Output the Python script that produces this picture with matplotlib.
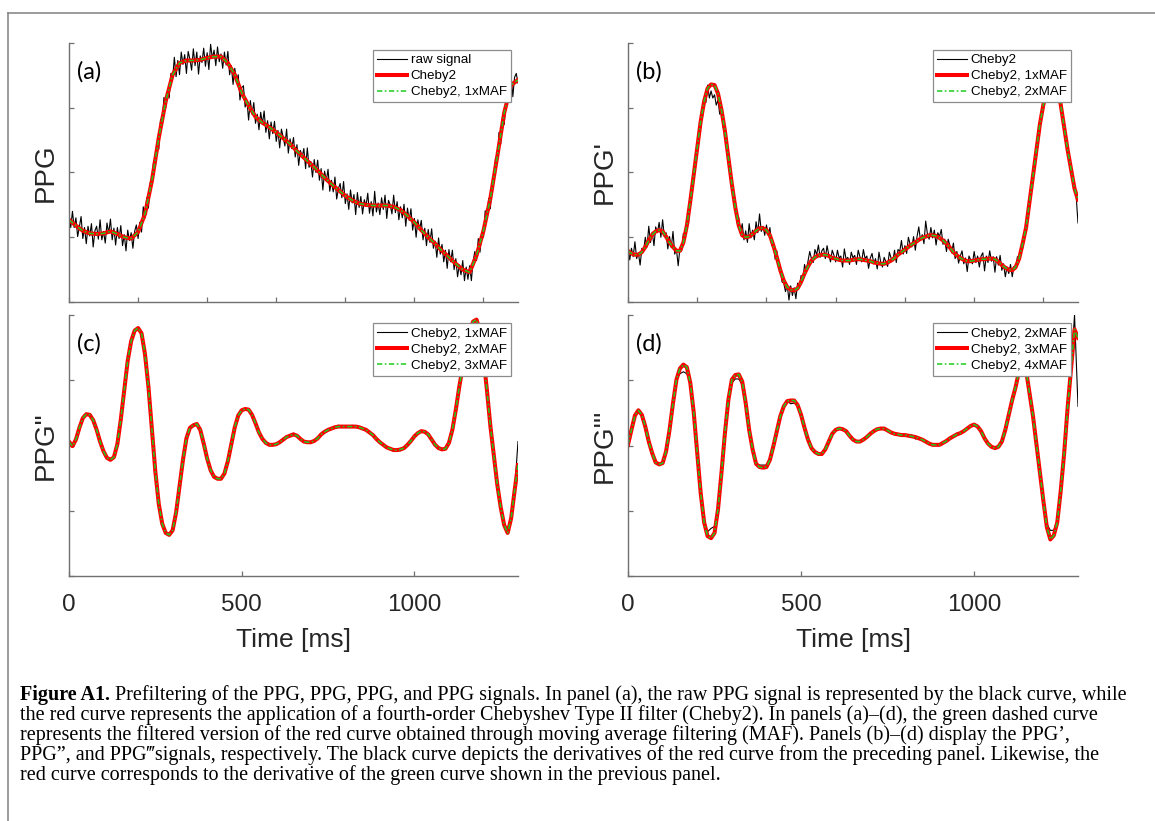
import numpy as np
import matplotlib
matplotlib.use('Agg')
import matplotlib.pyplot as plt
from matplotlib.lines import Line2D

plt.rcParams['font.family'] = ['Liberation Sans', 'DejaVu Sans']

# sample times [ms]
t5 = np.arange(0, 1301, 5)
t10 = np.arange(0, 1301, 10)
t20 = np.arange(0, 1301, 20)

# panel (a): raw PPG and Cheby2 filtered PPG (arbitrary units)
raw_a = [1.35, 1.15, 1.40, 1.15, 1.30, 1.01, 1.16, 1.32, 0.98, 1.15,
         0.90, 1.17, 1.02, 1.21, 0.85, 1.10, 1.17, 0.97, 1.27, 0.96,
         1.09, 0.91, 1.22, 1.06, 1.28, 0.96, 1.14, 0.88, 1.15, 0.98,
         1.18, 0.87, 1.04, 0.79, 1.11, 0.95, 1.07, 0.83, 1.09, 1.19,
         0.98, 1.23, 1.08, 1.47, 1.30, 1.61, 1.45, 1.84, 1.83, 2.19,
         2.08, 2.43, 2.36, 2.82, 2.80, 3.16, 3.00, 3.25, 3.15, 3.53,
         3.45, 3.78, 3.48, 3.73, 3.51, 3.86, 3.67, 3.82, 3.53, 3.87,
         3.75, 3.58, 3.91, 3.65, 3.86, 3.52, 3.80, 3.70, 3.92, 3.64,
         3.85, 3.59, 3.98, 3.76, 3.89, 3.65, 3.94, 3.71, 3.83, 3.61,
         3.86, 3.66, 3.87, 3.51, 3.65, 3.36, 3.61, 3.41, 3.51, 3.12,
         3.31, 3.34, 3.01, 3.12, 2.81, 3.11, 2.90, 3.08, 2.76, 2.90,
         2.66, 2.93, 2.75, 2.95, 2.62, 2.80, 2.52, 2.78, 2.60, 2.79,
         2.48, 2.65, 2.38, 2.67, 2.55, 2.41, 2.67, 2.30, 2.52, 2.37,
         2.54, 2.24, 2.43, 2.11, 2.34, 2.24, 2.37, 2.06, 2.38, 2.08,
         2.17, 1.93, 2.20, 2.00, 2.19, 1.88, 2.06, 1.73, 2.02, 1.87,
         2.05, 1.71, 1.88, 1.70, 1.93, 1.59, 1.75, 1.83, 1.61, 1.86,
         1.52, 1.67, 1.43, 1.73, 1.53, 1.66, 1.35, 1.69, 1.46, 1.63,
         1.36, 1.58, 1.48, 1.68, 1.37, 1.55, 1.33, 1.71, 1.39, 1.53,
         1.35, 1.61, 1.43, 1.65, 1.29, 1.57, 1.50, 1.36, 1.65, 1.38,
         1.55, 1.27, 1.47, 1.30, 1.51, 1.17, 1.45, 1.26, 1.44, 1.11,
         1.29, 1.00, 1.27, 1.12, 1.26, 0.96, 1.14, 0.87, 1.12, 0.92,
         1.13, 0.83, 0.94, 0.69, 0.99, 0.74, 0.89, 0.62, 0.80, 0.52,
         0.81, 0.62, 0.80, 0.50, 0.67, 0.39, 0.57, 0.42, 0.64, 0.33,
         0.54, 0.35, 0.56, 0.33, 0.63, 0.78, 0.64, 0.98, 0.77, 1.06,
         1.00, 1.41, 1.29, 1.60, 1.44, 1.84, 1.91, 2.23, 2.13, 2.62,
         2.44, 2.85, 2.74, 3.09, 3.28, 3.12, 3.51, 3.17, 3.47, 3.53, 3.38]
cheby_a = [1.27, 1.18, 1.10, 1.06, 1.05, 1.06, 1.09, 1.05, 1.00, 0.98,
           1.08, 1.36, 1.87, 2.54, 3.10, 3.51, 3.69, 3.73, 3.73, 3.74,
           3.77, 3.79, 3.79, 3.69, 3.51, 3.23, 3.03, 2.86, 2.77, 2.70,
           2.62, 2.53, 2.44, 2.33, 2.23, 2.13, 2.03, 1.92, 1.82, 1.73,
           1.64, 1.57, 1.52, 1.50, 1.49, 1.49, 1.49, 1.47, 1.42, 1.33,
           1.23, 1.11, 1.00, 0.90, 0.79, 0.69, 0.59, 0.50, 0.46, 0.72,
           1.10, 1.60, 2.25, 2.92, 3.35, 3.43]

# panel (b): PPG'
black_b = [0.84, 0.65, 0.83, 0.70, 0.93, 0.67, 0.76, 0.57, 0.83, 0.79,
           1.00, 0.85, 1.17, 0.92, 1.08, 0.87, 1.16, 1.07, 1.23, 1.00,
           1.27, 1.01, 1.07, 0.82, 1.01, 0.84, 1.09, 0.74, 0.81, 0.56,
           0.84, 0.79, 1.06, 1.02, 1.22, 1.21, 1.66, 1.73, 2.05, 2.13,
           2.44, 2.54, 2.87, 2.85, 3.14, 3.08, 3.35, 3.15, 3.26, 3.15,
           3.20, 3.04, 3.12, 2.90, 2.92, 2.69, 2.70, 2.36, 2.28, 1.99,
           1.90, 1.58, 1.50, 1.22, 1.30, 1.07, 1.21, 0.96, 1.10, 0.92,
           1.21, 0.99, 1.11, 0.96, 1.24, 1.07, 1.36, 1.09, 1.17, 1.03,
           1.19, 1.03, 1.15, 0.87, 0.92, 0.66, 0.79, 0.53, 0.53, 0.31,
           0.29, 0.16, 0.26, 0.03, 0.25, 0.10, 0.22, 0.05, 0.29, 0.23,
           0.41, 0.33, 0.58, 0.46, 0.63, 0.78, 0.67, 0.61, 0.81, 0.73,
           0.88, 0.69, 0.79, 0.83, 0.67, 0.87, 0.73, 0.62, 0.80, 0.72,
           0.62, 0.80, 0.68, 0.71, 0.54, 0.82, 0.66, 0.69, 0.58, 0.77,
           0.68, 0.72, 0.58, 0.80, 0.70, 0.62, 0.81, 0.67, 0.71, 0.52,
           0.68, 0.75, 0.59, 0.67, 0.51, 0.77, 0.62, 0.54, 0.69, 0.62,
           0.55, 0.77, 0.68, 0.63, 0.80, 0.61, 0.81, 0.78, 0.95, 0.74,
           0.87, 0.75, 1.00, 0.89, 0.85, 1.01, 0.80, 1.01, 1.16, 0.95,
           1.04, 0.90, 1.25, 1.05, 0.97, 1.15, 0.99, 1.11, 0.88, 1.07,
           1.01, 1.12, 0.89, 0.97, 0.78, 0.97, 0.87, 0.76, 0.91, 0.67,
           0.78, 0.60, 0.71, 0.79, 0.59, 0.68, 0.47, 0.71, 0.65, 0.59,
           0.78, 0.61, 0.71, 0.54, 0.71, 0.76, 0.48, 0.71, 0.61, 0.79,
           0.63, 0.70, 0.46, 0.70, 0.57, 0.72, 0.49, 0.59, 0.39, 0.54,
           0.44, 0.58, 0.39, 0.55, 0.51, 0.70, 0.62, 0.84, 0.82, 1.06,
           1.20, 1.29, 1.63, 1.71, 2.01, 2.07, 2.40, 2.52, 2.79, 2.84,
           3.08, 3.10, 3.29, 3.31, 3.43, 3.39, 3.47, 3.35, 3.39, 3.14,
           3.10, 2.80, 2.73, 2.47, 2.39, 2.15, 2.08, 1.86, 1.77, 1.61, 1.22]
cheby_b = [0.79, 0.75, 0.73, 0.73, 0.77, 0.85, 0.95, 1.04, 1.09, 1.11,
           1.09, 1.01, 0.92, 0.85, 0.79, 0.79, 0.92, 1.18, 1.56, 1.97,
           2.38, 2.79, 3.10, 3.30, 3.36, 3.35, 3.22, 2.97, 2.64, 2.23,
           1.82, 1.46, 1.18, 1.03, 1.00, 1.01, 1.05, 1.10, 1.14, 1.14,
           1.11, 1.03, 0.87, 0.69, 0.49, 0.33, 0.23, 0.19, 0.18, 0.21,
           0.31, 0.44, 0.55, 0.64, 0.69, 0.72, 0.73, 0.73, 0.71, 0.68,
           0.67, 0.65, 0.64, 0.64, 0.64, 0.65, 0.66, 0.66, 0.65, 0.64,
           0.63, 0.61, 0.60, 0.59, 0.59, 0.61, 0.64, 0.68, 0.73, 0.77,
           0.81, 0.85, 0.89, 0.92, 0.96, 0.99, 1.01, 1.03, 1.03, 1.02,
           0.99, 0.95, 0.90, 0.84, 0.77, 0.72, 0.68, 0.65, 0.63, 0.63,
           0.64, 0.65, 0.66, 0.66, 0.67, 0.67, 0.66, 0.62, 0.57, 0.53,
           0.50, 0.49, 0.54, 0.67, 0.90, 1.15, 1.55, 1.95, 2.35, 2.75,
           3.05, 3.25, 3.40, 3.45, 3.35, 3.05, 2.70, 2.35, 2.05, 1.75,
           1.58]

# panel (c): PPG''
black_c = [2.06, 1.99, 2.09, 2.27, 2.42, 2.48, 2.47, 2.39, 2.24, 2.06,
           1.91, 1.81, 1.78, 1.82, 2.02, 2.40, 2.85, 3.30, 3.60, 3.76,
           3.80, 3.72, 3.40, 2.90, 2.25, 1.60, 1.10, 0.80, 0.66, 0.63,
           0.70, 0.97, 1.38, 1.78, 2.11, 2.27, 2.31, 2.34, 2.24, 2.03,
           1.80, 1.62, 1.52, 1.49, 1.49, 1.57, 1.76, 2.02, 2.28, 2.46,
           2.54, 2.56, 2.55, 2.47, 2.34, 2.20, 2.10, 2.04, 2.01, 2.00,
           2.02, 2.05, 2.09, 2.13, 2.17, 2.19, 2.14, 2.10, 2.06, 2.05,
           2.03, 2.08, 2.11, 2.17, 2.21, 2.24, 2.26, 2.28, 2.31, 2.29,
           2.30, 2.29, 2.31, 2.29, 2.28, 2.26, 2.24, 2.20, 2.16, 2.10,
           2.05, 2.01, 1.97, 1.95, 1.91, 1.92, 1.92, 1.96, 2.01, 2.07,
           2.14, 2.19, 2.23, 2.21, 2.17, 2.09, 2.01, 1.96, 1.93, 1.95,
           2.04, 2.24, 2.55, 2.90, 3.21, 3.50, 3.75, 3.90, 3.93, 3.75,
           3.35, 2.85, 2.30, 1.85, 1.40, 1.05, 0.78, 0.66, 0.88, 1.30,
           2.06]
cheby_c = [2.06, 1.99, 2.09, 2.27, 2.42, 2.48, 2.47, 2.39, 2.24, 2.06,
           1.91, 1.81, 1.78, 1.82, 2.02, 2.40, 2.85, 3.30, 3.60, 3.76,
           3.80, 3.72, 3.40, 2.90, 2.25, 1.60, 1.10, 0.80, 0.66, 0.63,
           0.70, 0.97, 1.38, 1.78, 2.11, 2.27, 2.31, 2.33, 2.24, 2.03,
           1.80, 1.62, 1.52, 1.49, 1.49, 1.57, 1.76, 2.02, 2.28, 2.46,
           2.54, 2.56, 2.55, 2.47, 2.34, 2.20, 2.10, 2.04, 2.01, 2.01,
           2.02, 2.05, 2.09, 2.13, 2.15, 2.17, 2.15, 2.10, 2.06, 2.05,
           2.05, 2.07, 2.11, 2.17, 2.21, 2.24, 2.26, 2.28, 2.29, 2.29,
           2.29, 2.29, 2.29, 2.29, 2.28, 2.26, 2.24, 2.20, 2.16, 2.10,
           2.05, 2.01, 1.97, 1.95, 1.93, 1.93, 1.94, 1.96, 2.01, 2.07,
           2.14, 2.19, 2.22, 2.21, 2.17, 2.09, 2.01, 1.96, 1.94, 1.95,
           2.04, 2.24, 2.55, 2.90, 3.21, 3.50, 3.75, 3.90, 3.93, 3.75,
           3.35, 2.85, 2.30, 1.85, 1.40, 1.05, 0.78, 0.66, 0.88, 1.30,
           1.70]

# panel (d): PPG'''
black_d = [1.94, 2.24, 2.46, 2.54, 2.47, 2.29, 2.06, 1.88, 1.74, 1.71,
           1.73, 1.91, 2.24, 2.65, 3.01, 3.10, 3.13, 3.10, 2.96, 2.50,
           1.89, 1.27, 0.82, 0.68, 0.73, 0.76, 1.02, 1.58, 2.19, 2.70,
           2.96, 3.02, 3.02, 2.93, 2.65, 2.24, 1.94, 1.72, 1.70, 1.70,
           1.70, 1.78, 1.99, 2.22, 2.45, 2.60, 2.68, 2.64, 2.65, 2.62,
           2.47, 2.27, 2.09, 1.96, 1.90, 1.87, 1.89, 1.94, 2.06, 2.18,
           2.24, 2.26, 2.25, 2.22, 2.15, 2.09, 2.06, 2.06, 2.09, 2.13,
           2.18, 2.22, 2.25, 2.26, 2.24, 2.23, 2.20, 2.18, 2.17, 2.16,
           2.16, 2.15, 2.16, 2.10, 2.11, 2.09, 2.06, 2.03, 2.01, 2.01,
           2.01, 2.04, 2.07, 2.11, 2.14, 2.19, 2.17, 2.22, 2.26, 2.30,
           2.30, 2.29, 2.22, 2.11, 2.03, 1.98, 1.96, 1.98, 2.06, 2.24,
           2.47, 2.70, 2.90, 3.15, 3.30, 3.15, 2.80, 2.45, 2.02, 1.58,
           1.15, 0.80, 0.70, 0.70, 0.86, 1.30, 1.88, 2.58, 3.18, 4.00,
           2.60]
cheby_d = [2.01, 2.24, 2.46, 2.54, 2.47, 2.29, 2.06, 1.88, 1.74, 1.71,
           1.73, 1.91, 2.24, 2.65, 3.01, 3.18, 3.24, 3.20, 2.96, 2.50,
           1.89, 1.27, 0.82, 0.61, 0.58, 0.66, 1.02, 1.58, 2.19, 2.70,
           3.01, 3.08, 3.09, 2.98, 2.65, 2.24, 1.94, 1.72, 1.67, 1.66,
           1.67, 1.78, 1.99, 2.22, 2.45, 2.60, 2.68, 2.69, 2.69, 2.62,
           2.47, 2.27, 2.09, 1.96, 1.90, 1.87, 1.87, 1.94, 2.06, 2.18,
           2.24, 2.26, 2.25, 2.22, 2.15, 2.09, 2.06, 2.06, 2.09, 2.13,
           2.18, 2.22, 2.25, 2.26, 2.26, 2.23, 2.20, 2.18, 2.17, 2.16,
           2.16, 2.15, 2.14, 2.13, 2.11, 2.09, 2.06, 2.03, 2.01, 2.01,
           2.01, 2.04, 2.07, 2.11, 2.14, 2.17, 2.19, 2.22, 2.26, 2.30,
           2.32, 2.29, 2.22, 2.11, 2.03, 1.98, 1.96, 1.98, 2.06, 2.24,
           2.47, 2.70, 2.90, 3.15, 3.30, 3.15, 2.80, 2.45, 2.02, 1.58,
           1.15, 0.75, 0.56, 0.62, 0.82, 1.30, 1.88, 2.58, 3.18, 3.78,
           3.65]

legend_labels = [['raw signal', 'Cheby2', 'Cheby2, 1xMAF'],
                 ['Cheby2', 'Cheby2, 1xMAF', 'Cheby2, 2xMAF'],
                 ['Cheby2, 1xMAF', 'Cheby2, 2xMAF', 'Cheby2, 3xMAF'],
                 ['Cheby2, 2xMAF', 'Cheby2, 3xMAF', 'Cheby2, 4xMAF']]
y_names = ['PPG', "PPG'", 'PPG"', "PPG'''"]
letters = ['(a)', '(b)', '(c)', '(d)']

W, H = 1155, 821
fig = plt.figure(figsize=(W / 100, H / 100), dpi=100)


def px_box(l, t, r, b):
    return [l / W, 1 - b / H, (r - l) / W, (b - t) / H]


boxes = [px_box(69, 43, 518, 302), px_box(628, 43, 1078, 302),
         px_box(69, 315, 518, 576), px_box(628, 315, 1078, 576)]
blacks = [(t5, raw_a), (t5, black_b), (t10, black_c), (t10, black_d)]
reds = [(t20, cheby_a), (t10, cheby_b), (t10, cheby_c), (t10, cheby_d)]

grey = '#707070'
txt = '#262626'
green = '#1ccc1c'

for i in range(4):
    ax = fig.add_axes(boxes[i])
    tb, yb = blacks[i]
    tr, yr = reds[i]
    l1, = ax.plot(tb, yb, color='black', lw=0.8)
    l2, = ax.plot(tr, yr, color='red', lw=2.9)
    l3, = ax.plot(tr, yr, color=green, lw=1.1, dashes=(3.5, 1.6, 1.1, 1.6))
    ax.set_xlim(0, 1300)
    ax.set_ylim(0, 4)
    ax.set_yticks([0, 1, 2, 3, 4])
    ax.set_yticklabels([])
    if i < 2:
        ax.set_xticks(np.arange(0, 1201, 200))
        ax.set_xticklabels([])
    else:
        ax.set_xticks([0, 500, 1000])
        ax.set_xlabel('Time [ms]', fontsize=19, color=txt)
        ax.xaxis.set_label_coords(0.5, -0.20)
    for s in ['top', 'right']:
        ax.spines[s].set_visible(False)
    for s in ['left', 'bottom']:
        ax.spines[s].set_color(grey)
        ax.spines[s].set_linewidth(1.0)
    ax.tick_params(direction='in', length=3.5, width=0.9, color=grey,
                   labelsize=17.5, labelcolor=txt, pad=13)
    ax.set_ylabel(y_names[i], fontsize=20, color=txt)
    ax.yaxis.set_label_coords(-0.022, 0.5)
    ax.text(0.018, 0.89, letters[i], transform=ax.transAxes, fontsize=17,
            family=['Lato', 'DejaVu Sans'], ha='left', va='center', color='black')
    top = 0.973 if i < 2 else 0.968
    leg = ax.legend([l1, l2, l3], legend_labels[i], loc='upper right',
                    bbox_to_anchor=(0.984, top), borderaxespad=0, fontsize=9.6,
                    handlelength=2.2, handletextpad=0.3, labelspacing=0.28,
                    borderpad=0.3, fancybox=False, framealpha=1)
    leg.get_frame().set_edgecolor('#8c8c8c')
    leg.get_frame().set_linewidth(0.9)

# outer frame of the figure box
fig.add_artist(Line2D([8 / W, 8 / W], [0, 1 - 13 / H], color='#8a8a8a', lw=1.2))
fig.add_artist(Line2D([8 / W, 1], [1 - 13 / H, 1 - 13 / H], color='#8a8a8a', lw=1.2))

# caption
cap_font = ['Liberation Serif', 'DejaVu Serif']
cap_lines = [' Prefiltering of the PPG, PPG, PPG, and PPG signals. In panel (a), the raw PPG signal is represented by the black curve, while',
             'the red curve represents the application of a fourth-order Chebyshev Type II filter (Cheby2). In panels (a)–(d), the green dashed curve',
             'represents the filtered version of the red curve obtained through moving average filtering (MAF). Panels (b)–(d) display the PPG’,',
             'PPG”, and PPG‴signals, respectively. The black curve depicts the derivatives of the red curve from the preceding panel. Likewise, the',
             'red curve corresponds to the derivative of the green curve shown in the previous panel.']
x0, x1 = 20, 1125
baselines = [700, 720, 740, 760, 780]
r = fig.canvas.get_renderer()
t_bold = fig.text(x0 / W, 1 - baselines[0] / H, 'Figure A1.', fontsize=12,
                  fontweight='bold', family=cap_font, va='baseline')
t_first = fig.text(x0 / W, 1 - baselines[0] / H, cap_lines[0], fontsize=12,
                   family=cap_font, va='baseline')
w = t_bold.get_window_extent(r).width + t_first.get_window_extent(r).width
fs = 12 * (x1 - x0) / w
t_bold.set_fontsize(fs)
t_first.set_fontsize(fs)
t_first.set_x(t_bold.get_window_extent(r).x1 / W)
for k in range(1, 5):
    fig.text(x0 / W, 1 - baselines[k] / H, cap_lines[k], fontsize=fs,
             family=cap_font, va='baseline')

fig.savefig('out.png', dpi=100)
